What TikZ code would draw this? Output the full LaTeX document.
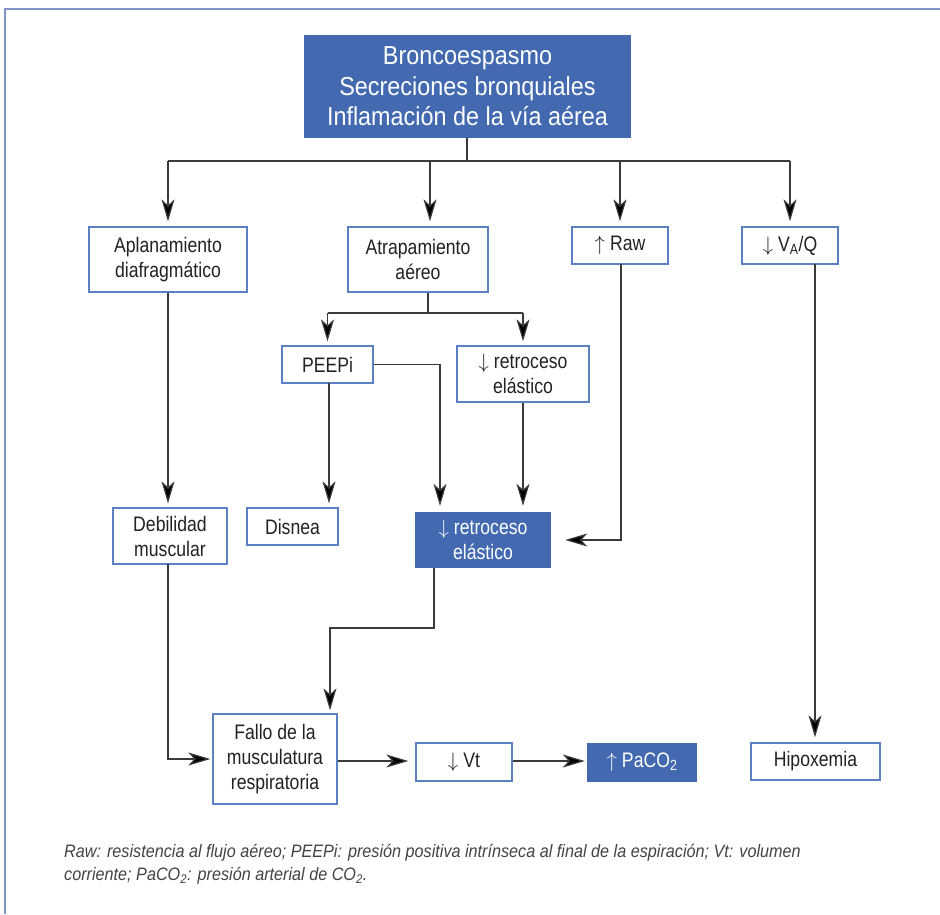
\documentclass[tikz,border=0pt]{standalone}
\usepackage{fontspec}
\setmainfont{Liberation Sans}[FakeStretch=0.84]
\newfontfamily\widefont{Liberation Sans}[FakeStretch=0.9]
\usetikzlibrary{arrows.meta}
\definecolor{boxblue}{HTML}{5B80C4}
\definecolor{fillblue}{HTML}{4369B0}
\definecolor{linegray}{HTML}{3A3A3A}
\definecolor{framecol}{HTML}{7F95C6}
\definecolor{txt}{HTML}{222222}
% thin arrows used in the labels
\newcommand\uparr{$\uparrow$\kern5pt}
\newcommand\downarr{$\downarrow$\kern5pt}
\tikzset{
  box/.style={draw=boxblue, line width=1.3pt, fill=white, text=txt, align=center,
    inner sep=0pt, font=\fontsize{21}{25}\selectfont},
  bluebox/.style={fill=fillblue, draw=none, text=white, align=center, inner sep=0pt,
    font=\fontsize{21}{25}\selectfont},
  conn/.style={draw=linegray, line width=1.2pt},
  arr/.style={conn, -{Stealth[length=22pt, width=13pt, inset=6pt, fill=black]}},
}
\begin{document}
\begin{tikzpicture}[x=1pt, y=-1pt]
\useasboundingbox (0,0) rectangle (940,914);
\fill[white] (0,0) rectangle (940,914);
% outer frame
\draw[framecol, line width=1.5pt] (5,914) -- (5,9) -- (940,9);

% top cause box
\node[bluebox, minimum width=327pt, minimum height=103pt,
  font=\widefont\fontsize{26}{30.5}\selectfont] (top) at (467.5,86.5)
  {Broncoespasmo\\Secreciones bronquiales\\Inflamación de la vía aérea};

% first level
\node[box, minimum width=158pt, minimum height=65pt] (aplan) at (168,259.5)
  {Aplanamiento\\diafragmático};
\node[box, minimum width=140pt, minimum height=65pt] (atrap) at (418,259.5)
  {Atrapamiento\\aéreo};
\node[box, minimum width=96pt, minimum height=37pt] (raw) at (620,245.5)
  {\uparr Raw};
\node[box, minimum width=96pt, minimum height=37pt] (vaq) at (790,245.5)
  {\downarr V\textsubscript{A}/Q};

% second level
\node[box, minimum width=91pt, minimum height=37pt] (peepi) at (327.5,364.5)
  {PEEPi};
\node[box, minimum width=132pt, minimum height=56pt] (retro1) at (523,374)
  {\downarr retroceso\\elástico};

% third level
\node[box, minimum width=114pt, minimum height=56pt] (debil) at (170,536)
  {Debilidad\\muscular};
\node[box, minimum width=91pt, minimum height=37pt] (disnea) at (292.5,526.5)
  {Disnea};
\node[bluebox, minimum width=136pt, minimum height=56pt] (retro2) at (483,540)
  {\downarr retroceso\\elástico};

% bottom row
\node[box, minimum width=124pt, minimum height=90pt] (fallo) at (275,759)
  {Fallo de la\\musculatura\\respiratoria};
\node[box, minimum width=96pt, minimum height=38pt] (vt) at (464,762)
  {\downarr Vt};
\node[bluebox, minimum width=110pt, minimum height=39pt] (paco) at (642,762.5)
  {\uparr PaCO\textsubscript{2}};
\node[box, minimum width=129pt, minimum height=37pt] (hipox) at (815.5,761.5)
  {Hipoxemia};

% connectors from the top box
\coordinate (hub) at (467,161);
\coordinate (atrapin) at (430,161);
\draw[conn] (top.south -| hub) -- (hub);
\draw[conn] (aplan.north |- hub) -- (vaq.north |- hub);
\draw[arr, shorten >=5pt] (aplan.north |- hub) -- (aplan.north);
\draw[arr, shorten >=5pt] (atrapin) -- (atrapin |- atrap.north);
\draw[arr, shorten >=5pt] (raw.north |- hub) -- (raw.north);
\draw[arr, shorten >=5pt] (vaq.north |- hub) -- (vaq.north);

% air trapping branches
\coordinate (atrapout) at (428,293);
\coordinate (split) at (428,313);
\draw[conn] (atrapout) -- (split);
\draw[conn] (peepi.north |- split) -- (retro1.north |- split);
\draw[arr, shorten >=4pt] (peepi.north |- split) -- (peepi.north);
\draw[arr, shorten >=4pt] (retro1.north |- split) -- (retro1.north);

% PEEPi outputs
\coordinate (peepiturn) at (440,364.5);
\draw[arr, shorten >=6pt] (peepi.east) -- (peepiturn) -- (peepiturn |- retro2.north);
\coordinate (peepidown) at (329,383);
\draw[arr, shorten >=4pt] (peepidown) -- (peepidown |- disnea.north);
\draw[arr, shorten >=6pt] (retro1.south) -- (retro1.south |- retro2.north);

% Raw to elastic recoil
\coordinate (rawdown) at (621,264);
\draw[arr, shorten >=14pt] (rawdown) |- (retro2.east);

% diaphragm to weakness
\draw[arr, shorten >=4pt] (aplan.south) -- (aplan.south |- debil.north);

% elastic recoil to muscle failure
\coordinate (r2out) at (434,568);
\coordinate (r2turn) at (434,628);
\coordinate (falloin) at (330,628);
\draw[arr, shorten >=3pt] (r2out) -- (r2turn) -- (falloin) -- (falloin |- fallo.north);

% weakness to muscle failure
\coordinate (debout) at (168,564);
\draw[arr, shorten >=2pt] (debout) |- (fallo.west);

% bottom chain
\coordinate (chain) at (0,761);
\draw[arr, shorten >=7pt] (fallo.east |- chain) -- (vt.west |- chain);
\draw[arr, shorten >=2pt] (vt.east |- chain) -- (paco.west |- chain);
\coordinate (vaqout) at (815,264);
\draw[arr, shorten >=5pt] (vaqout) -- (vaqout |- hipox.north);

% legend
\node[anchor=west, inner sep=0pt, text=txt!85, font=\widefont\itshape\fontsize{18}{23}\selectfont, align=left]
  (legend) at (64,864.5)
  {Raw: resistencia al flujo aéreo; PEEPi: presión positiva intrínseca al final de la espiración; Vt: volumen\\
   corriente; PaCO\textsubscript{2}: presión arterial de CO\textsubscript{2}.};
\end{tikzpicture}
\end{document}
